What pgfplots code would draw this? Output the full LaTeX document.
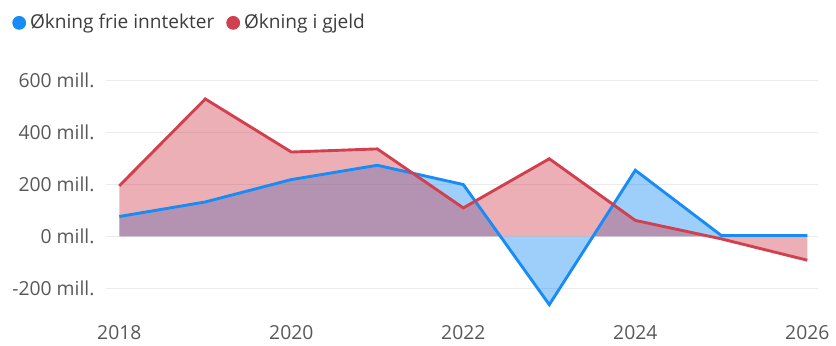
\documentclass[border=0pt]{standalone}
\usepackage{pgfplots}
\usepackage{pgfplotstable}
\pgfplotsset{compat=1.18}
\usepackage{fontspec}
\setmainfont{Open Sans}

\definecolor{blueline}{RGB}{24,140,245}
\definecolor{redline}{RGB}{208,64,78}
\definecolor{gridgray}{RGB}{235,235,235}
\definecolor{txtgray}{RGB}{88,88,88}
\definecolor{legtxt}{RGB}{60,60,60}

% year, frie inntekter, gjeld (mill. kr)
\pgfplotstableread{
year inc debt
2018 76 194
2019 132 528
2020 218 324
2021 273 336
2022 199 109
2023 -263 298
2024 254 61
2025 3 -10
2026 3 -92
}\datatable

\begin{document}
\begin{tikzpicture}
\begin{axis}[
    scale only axis,
    width=358pt, height=104.6pt,
    xmin=2017.85, xmax=2026.13,
    ymin=-200, ymax=600,
    clip=false,
    axis line style={draw=none},
    major tick length=0pt,
    ymajorgrids,
    grid style={gridgray, line width=0.7pt},
    xtick={2018,2020,2022,2024,2026},
    ytick={-200,0,200,400,600},
    /pgf/number format/assume math mode=true,
    /pgf/number format/1000 sep={},
    ticklabel style={font=\fontsize{9.7}{11}\selectfont, text=txtgray},
    x tick label style={yshift=-15pt},
    y tick label style={xshift=-2.5pt},
    yticklabel={\pgfmathprintnumber{\tick} mill.},
    legend style={draw=none, fill=none, inner sep=0pt,
        at={(0,1)}, anchor=west, xshift=-47.5pt, yshift=28.85pt,
        font=\fontsize{9.6}{11}\selectfont, text=legtxt,
        legend columns=-1,
        /tikz/every even column/.append style={column sep=4pt}},
    legend cell align=left,
]

% areas down to zero
\addplot[draw=none, fill=blueline, fill opacity=0.42, forget plot]
    table[x=year, y=inc] {\datatable} \closedcycle;
\addplot[draw=none, fill=redline, fill opacity=0.42, forget plot]
    table[x=year, y=debt] {\datatable} \closedcycle;

% lines
\addplot[blueline, line width=1.45pt, forget plot] table[x=year, y=inc] {\datatable};
\addplot[redline, line width=1.45pt, forget plot] table[x=year, y=debt] {\datatable};

\addlegendimage{legend image code/.code={\fill[blueline] (0pt,0pt) circle (3.25pt);}}
\addlegendentry{Økning frie inntekter}
\addlegendimage{legend image code/.code={\fill[redline] (0pt,0pt) circle (3.25pt);}}
\addlegendentry{Økning i gjeld}

\end{axis}
% page margins as in the reference
\path ([xshift=-53.5pt,yshift=-26pt]current axis.south west)
    rectangle ([xshift=6.5pt,yshift=40.35pt]current axis.north east);
\end{tikzpicture}
\end{document}
